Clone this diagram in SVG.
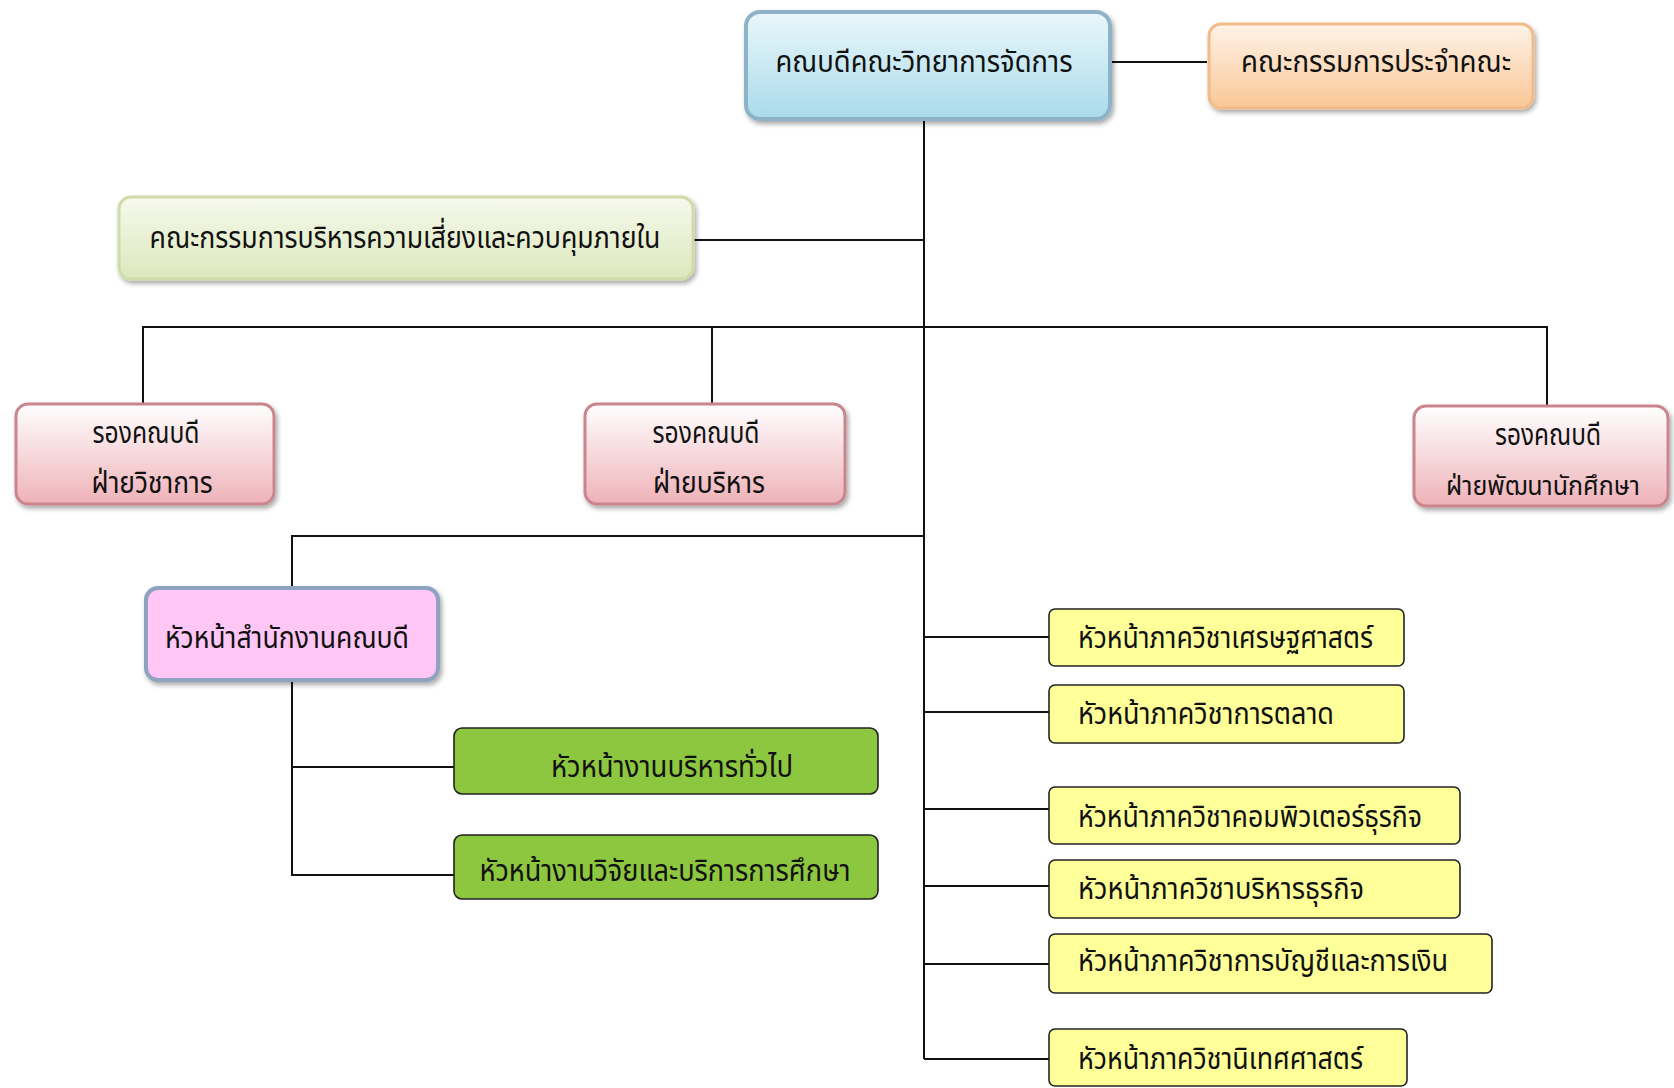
<svg xmlns="http://www.w3.org/2000/svg" width="1674" height="1088" viewBox="0 0 1674 1088">
<style>
.t{font-family:"Noto Sans Thai","Noto Sans","DejaVu Sans",sans-serif;font-size:30px;fill:#111;}
.ln{stroke:#111;stroke-width:2;fill:none;}
.y{fill:#ffff99;stroke:#222;stroke-width:1.6;}
.g{fill:#8dc63f;stroke:#222;stroke-width:1.6;}
</style>
<defs>
<filter id="sh" x="-10%" y="-20%" width="125%" height="150%"><feGaussianBlur in="SourceAlpha" stdDeviation="2.5"/><feOffset dx="2" dy="3"/><feComponentTransfer><feFuncA type="linear" slope="0.35"/></feComponentTransfer><feMerge><feMergeNode/><feMergeNode in="SourceGraphic"/></feMerge></filter>
<linearGradient id="gb" x1="0" y1="0" x2="0" y2="1"><stop offset="0" stop-color="#eaf7fb"/><stop offset="1" stop-color="#a9dbea"/></linearGradient>
<linearGradient id="go" x1="0" y1="0" x2="0" y2="1"><stop offset="0" stop-color="#fff3e8"/><stop offset="1" stop-color="#f9c796"/></linearGradient>
<linearGradient id="gg" x1="0" y1="0" x2="0" y2="1"><stop offset="0" stop-color="#f6f9ec"/><stop offset="1" stop-color="#dce8bd"/></linearGradient>
<linearGradient id="gp" x1="0" y1="0" x2="0" y2="1"><stop offset="0" stop-color="#ffffff"/><stop offset="1" stop-color="#eeb2b8"/></linearGradient>
</defs>
<g id="connectors">
<line class="ln" x1="924" y1="121" x2="924" y2="1059"/>
<line class="ln" x1="1112" y1="62" x2="1207" y2="62"/>
<line class="ln" x1="694" y1="240" x2="924" y2="240"/>
<polyline class="ln" points="143,403 143,327 1547,327 1547,405"/>
<line class="ln" x1="712" y1="327" x2="712" y2="403"/>
<polyline class="ln" points="292,587 292,536 924,536"/>
<polyline class="ln" points="292,681 292,875 454,875"/>
<line class="ln" x1="292" y1="767" x2="454" y2="767"/>
<line class="ln" x1="924" y1="637" x2="1049" y2="637"/>
<line class="ln" x1="924" y1="712" x2="1049" y2="712"/>
<line class="ln" x1="924" y1="809" x2="1049" y2="809"/>
<line class="ln" x1="924" y1="886" x2="1049" y2="886"/>
<line class="ln" x1="924" y1="964" x2="1049" y2="964"/>
<line class="ln" x1="924" y1="1059" x2="1049" y2="1059"/>
</g>
<g id="dean"><rect x="746" y="12" width="364" height="107" rx="14" fill="url(#gb)" stroke="#8fb3c6" stroke-width="4" filter="url(#sh)"/><text class="t" x="924" y="72" text-anchor="middle" textLength="297" lengthAdjust="spacingAndGlyphs">คณบดีคณะวิทยาการจัดการ</text></g>
<g id="faculty-committee"><rect x="1209" y="24" width="324" height="84" rx="12" fill="url(#go)" stroke="#f2bb8a" stroke-width="3" filter="url(#sh)"/><text class="t" x="1376" y="72" text-anchor="middle" textLength="270" lengthAdjust="spacingAndGlyphs">คณะกรรมการประจำคณะ</text></g>
<g id="risk-committee"><rect x="119" y="197" width="574" height="82" rx="12" fill="url(#gg)" stroke="#cfdcaa" stroke-width="3" filter="url(#sh)"/><text class="t" x="405" y="248" text-anchor="middle" textLength="511" lengthAdjust="spacingAndGlyphs">คณะกรรมการบริหารความเสี่ยงและควบคุมภายใน</text></g>
<g id="vd-academic"><rect x="16" y="404" width="258" height="100" rx="12" fill="url(#gp)" stroke="#c9868e" stroke-width="3" filter="url(#sh)"/><text class="t" x="146" y="443" text-anchor="middle" textLength="107" lengthAdjust="spacingAndGlyphs">รองคณบดี</text><text class="t" x="152" y="493" text-anchor="middle" textLength="121" lengthAdjust="spacingAndGlyphs">ฝ่ายวิชาการ</text></g>
<g id="vd-admin"><rect x="585" y="404" width="260" height="100" rx="12" fill="url(#gp)" stroke="#c9868e" stroke-width="3" filter="url(#sh)"/><text class="t" x="706" y="443" text-anchor="middle" textLength="107" lengthAdjust="spacingAndGlyphs">รองคณบดี</text><text class="t" x="709" y="493" text-anchor="middle" textLength="112" lengthAdjust="spacingAndGlyphs">ฝ่ายบริหาร</text></g>
<g id="vd-student"><rect x="1414" y="406" width="254" height="100" rx="12" fill="url(#gp)" stroke="#c9868e" stroke-width="3" filter="url(#sh)"/><text class="t" x="1548" y="445" text-anchor="middle" textLength="106" lengthAdjust="spacingAndGlyphs">รองคณบดี</text><text class="t" x="1543" y="495" text-anchor="middle" style="font-size:26px" textLength="194" lengthAdjust="spacingAndGlyphs">ฝ่ายพัฒนานักศึกษา</text></g>
<g id="office-head"><rect x="146" y="588" width="292" height="92" rx="12" fill="#ffc6f6" stroke="#8fa2bf" stroke-width="4" filter="url(#sh)"/><text class="t" x="287" y="648" text-anchor="middle" textLength="244" lengthAdjust="spacingAndGlyphs">หัวหน้าสำนักงานคณบดี</text></g>
<g id="general-admin"><rect class="g" x="454" y="728" width="424" height="66" rx="8"/><text class="t" x="672" y="777" text-anchor="middle" textLength="242" lengthAdjust="spacingAndGlyphs">หัวหน้างานบริหารทั่วไป</text></g>
<g id="research-service"><rect class="g" x="454" y="835" width="424" height="64" rx="8"/><text class="t" x="665" y="881" text-anchor="middle" textLength="371" lengthAdjust="spacingAndGlyphs">หัวหน้างานวิจัยและบริการการศึกษา</text></g>
<g id="dept-economics"><rect class="y" x="1049" y="609" width="355" height="57" rx="6"/><text class="t" x="1078" y="648" textLength="295" lengthAdjust="spacingAndGlyphs">หัวหน้าภาควิชาเศรษฐศาสตร์</text></g>
<g id="dept-marketing"><rect class="y" x="1049" y="685" width="355" height="58" rx="6"/><text class="t" x="1078" y="724" textLength="256" lengthAdjust="spacingAndGlyphs">หัวหน้าภาควิชาการตลาด</text></g>
<g id="dept-computer"><rect class="y" x="1049" y="787" width="411" height="57" rx="6"/><text class="t" x="1078" y="827" textLength="344" lengthAdjust="spacingAndGlyphs">หัวหน้าภาควิชาคอมพิวเตอร์ธุรกิจ</text></g>
<g id="dept-business"><rect class="y" x="1049" y="860" width="411" height="58" rx="6"/><text class="t" x="1078" y="899" textLength="286" lengthAdjust="spacingAndGlyphs">หัวหน้าภาควิชาบริหารธุรกิจ</text></g>
<g id="dept-accounting"><rect class="y" x="1049" y="934" width="443" height="59" rx="6"/><text class="t" x="1078" y="971" textLength="370" lengthAdjust="spacingAndGlyphs">หัวหน้าภาควิชาการบัญชีและการเงิน</text></g>
<g id="dept-communication"><rect class="y" x="1049" y="1029" width="358" height="57" rx="6"/><text class="t" x="1078" y="1069" textLength="285" lengthAdjust="spacingAndGlyphs">หัวหน้าภาควิชานิเทศศาสตร์</text></g>
</svg>
